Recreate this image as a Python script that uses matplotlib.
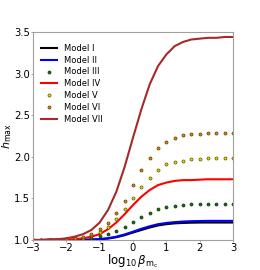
import numpy as np
import matplotlib
matplotlib.use("Agg")
import matplotlib.pyplot as plt

# log10 beta_mc grid (every 0.25)
x = np.arange(-3, 3.001, 0.25)

# Model curves / points
model_1 = [1.00, 1.00, 1.00, 1.00, 1.00, 1.00, 1.00, 1.003, 1.008, 1.017, 1.033, 1.058,
           1.09, 1.12, 1.15, 1.175, 1.19, 1.20, 1.205, 1.208, 1.21, 1.21, 1.21, 1.21, 1.21]
model_2 = [1.00, 1.00, 1.00, 1.00, 1.00, 1.00, 1.002, 1.006, 1.012, 1.022, 1.04, 1.067,
           1.10, 1.135, 1.165, 1.19, 1.205, 1.215, 1.222, 1.226, 1.228, 1.23, 1.23, 1.23, 1.23]
model_3 = [1.00, 1.00, 1.00, 1.00, 1.00, 1.01, 1.02, 1.03, 1.05, 1.07, 1.11, 1.16,
           1.22, 1.28, 1.33, 1.37, 1.40, 1.41, 1.42, 1.43, 1.43, 1.43, 1.43, 1.43, 1.43]
model_4 = [1.00, 1.00, 1.00, 1.00, 1.005, 1.01, 1.02, 1.04, 1.07, 1.13, 1.21, 1.31,
           1.42, 1.52, 1.60, 1.66, 1.69, 1.71, 1.72, 1.72, 1.725, 1.73, 1.73, 1.73, 1.73]
model_5 = [1.00, 1.00, 1.00, 1.00, 1.01, 1.02, 1.03, 1.06, 1.10, 1.16, 1.25, 1.37,
           1.51, 1.64, 1.75, 1.84, 1.91, 1.935, 1.955, 1.97, 1.975, 1.98, 1.98, 1.98, 1.98]
model_6 = [1.00, 1.00, 1.00, 1.00, 1.01, 1.02, 1.04, 1.07, 1.13, 1.21, 1.32, 1.47,
           1.66, 1.84, 1.99, 2.10, 2.18, 2.23, 2.26, 2.27, 2.28, 2.29, 2.29, 2.29, 2.29]
model_7 = [1.00, 1.00, 1.01, 1.01, 1.02, 1.04, 1.07, 1.12, 1.21, 1.36, 1.58, 1.88,
           2.23, 2.57, 2.87, 3.09, 3.23, 3.33, 3.38, 3.41, 3.42, 3.43, 3.43, 3.44, 3.44]

fig = plt.figure(figsize=(2.6, 2.7), dpi=100)
ax = fig.add_axes([33 / 260, 30 / 270, 200 / 260, 208 / 270])

ax.plot(x, model_1, color="black", lw=1.5, label="Model I")
ax.plot(x, model_2, color="blue", lw=1.5, label="Model II")
ax.plot(x, model_3, ls="none", marker="o", ms=2.2, mfc="#1e6b1e", mec="#0b3a0b",
        mew=0.5, label="Model III")
ax.plot(x, model_4, color="red", lw=1.5, label="Model IV")
ax.plot(x, model_5, ls="none", marker="o", ms=2.2, mfc="#e6d800", mec="#555500",
        mew=0.5, label="Model V")
ax.plot(x, model_6, ls="none", marker="o", ms=2.2, mfc="#d98c0a", mec="#5a3a00",
        mew=0.5, label="Model VI")
ax.plot(x, model_7, color="#a52a2a", lw=1.5, label="Model VII")

ax.set_xlim(-3, 3)
ax.set_ylim(1.0, 3.5)
ax.set_xticks([-3, -2, -1, 0, 1, 2, 3])
ax.set_yticks([1.0, 1.5, 2.0, 2.5, 3.0, 3.5])
ax.set_xticklabels(["\u22123", "\u22122", "\u22121", "0", "1", "2", "3"])
ax.tick_params(labelsize=7.2, length=1.5, width=0.6, color="#999999", pad=0.6)
for s in ax.spines.values():
    s.set_color("#a0a0a0")
    s.set_linewidth(0.8)

ax.set_xlabel(r"$\log_{10}\beta_{\mathrm{m_c}}$", fontsize=8.5, labelpad=0)
ax.set_ylabel(r"$h_{\mathrm{max}}$", fontsize=8, labelpad=0)

ax.legend(loc="upper left", frameon=False, fontsize=6, handlelength=2.0,
          labelspacing=0.35, borderaxespad=0.5, handletextpad=0.8,
          bbox_to_anchor=(0.0, 0.98))

fig.savefig("out.png", dpi=100)
